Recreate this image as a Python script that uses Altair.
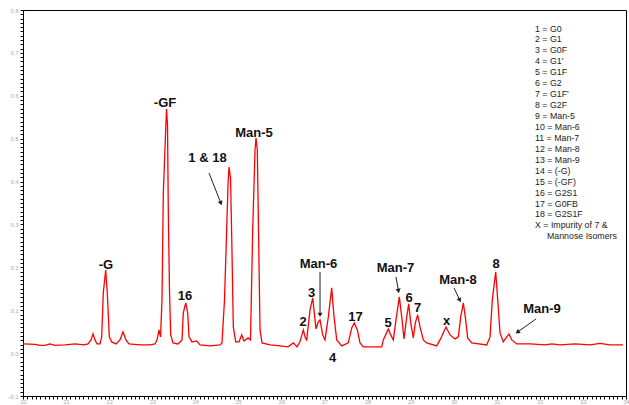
import altair as alt
import numpy as np
import pandas as pd

# ---- chromatogram trace (retention time, min ; absorbance, AU) ----
TIME = [20.000, 20.279, 20.395, 20.511, 20.627, 20.743, 20.975, 21.207, 21.416, 21.509,
        21.579, 21.625, 21.672, 21.718, 21.788, 21.827, 21.864, 21.920, 21.957, 22.004,
        22.059, 22.159, 22.252, 22.322, 22.391, 22.461, 22.717, 22.949, 23.065, 23.111,
        23.158, 23.193, 23.227, 23.258, 23.297, 23.332, 23.355, 23.374, 23.401, 23.429,
        23.483, 23.599, 23.692, 23.722, 23.778, 23.824, 23.854, 23.924, 24.033, 24.110,
        24.342, 24.574, 24.620, 24.678, 24.725, 24.760, 24.783, 24.818, 24.846, 24.883,
        24.939, 25.015, 25.078, 25.131, 25.224, 25.282, 25.333, 25.387, 25.410, 25.440,
        25.468, 25.503, 25.549, 25.735, 25.967, 26.153, 26.276, 26.362, 26.431, 26.508,
        26.555, 26.587, 26.664, 26.726, 26.763, 26.803, 26.856, 26.896, 26.958, 27.012,
        27.089, 27.167, 27.221, 27.284, 27.400, 27.553, 27.632, 27.692, 27.762, 27.825,
        27.901, 28.057, 28.328, 28.366, 28.482, 28.537, 28.598, 28.660, 28.737, 28.793,
        28.846, 28.909, 28.955, 29.002, 29.062, 29.108, 29.164, 29.218, 29.294, 29.373,
        29.605, 29.682, 29.821, 29.914, 30.030, 30.107, 30.163, 30.223, 30.269, 30.325,
        30.418, 30.766, 30.843, 30.896, 30.975, 31.022, 31.075, 31.152, 31.231, 31.284,
        31.347, 31.463, 31.772, 32.120, 32.282, 32.468, 32.816, 33.165, 33.397, 33.629,
        33.931]
ABS = [0.0214, 0.0203, 0.0180, 0.0180, 0.0214, 0.0180, 0.0191, 0.0214, 0.0191, 0.0214,
       0.0308, 0.0448, 0.0308, 0.0214, 0.0214, 0.0378, 0.1403, 0.1939, 0.1403, 0.0378,
       0.0261, 0.0214, 0.0308, 0.0494, 0.0308, 0.0214, 0.0191, 0.0191, 0.0214, 0.0308,
       0.0541, 0.0378, 0.1240, 0.3734, 0.4783, 0.5692, 0.5319, 0.3268, 0.1473, 0.0424,
       0.0238, 0.0214, 0.0308, 0.0937, 0.1170, 0.0937, 0.0378, 0.0261, 0.0284, 0.0191,
       0.0168, 0.0191, 0.0238, 0.1240, 0.2755, 0.3921, 0.4340, 0.4084, 0.2709, 0.0611,
       0.0261, 0.0261, 0.0424, 0.0284, 0.0354, 0.0308, 0.2872, 0.4737, 0.5016, 0.4737,
       0.2872, 0.0541, 0.0238, 0.0191, 0.0168, 0.0145, 0.0238, 0.0145, 0.0268, 0.0541,
       0.0354, 0.0308, 0.1007, 0.1287, 0.0937, 0.0564, 0.0727, 0.0774, 0.0424, 0.0308,
       0.0844, 0.1520, 0.0844, 0.0308, 0.0168, 0.0238, 0.0587, 0.0704, 0.0541, 0.0238,
       0.0145, 0.0145, 0.0145, 0.0308, 0.0564, 0.0424, 0.0308, 0.0774, 0.1310, 0.0844,
       0.0331, 0.0844, 0.1147, 0.0704, 0.0354, 0.0704, 0.0890, 0.0611, 0.0308, 0.0238,
       0.0168, 0.0308, 0.0611, 0.0424, 0.0331, 0.0378, 0.0844, 0.1170, 0.0844, 0.0354,
       0.0238, 0.0191, 0.0378, 0.1240, 0.1893, 0.1240, 0.0471, 0.0261, 0.0378, 0.0448,
       0.0308, 0.0214, 0.0214, 0.0191, 0.0214, 0.0191, 0.0214, 0.0191, 0.0226, 0.0191,
       0.0191]

# ---- peak annotations ----
LABEL_TEXT = ["-G", "-GF", "16", "1 & 18", "Man-5", "Man-6", "3", "2", "4", "17",
              "5", "Man-7", "6", "7", "x", "Man-8", "8", "Man-9"]
LABEL_X = [21.927, 23.297, 23.761, 24.284, 25.363, 26.861, 26.698, 26.501, 27.186, 27.720,
           28.475, 28.649, 28.962, 29.160, 29.833, 30.100, 30.982, 32.050]
LABEL_Y = [0.1963, 0.5739, 0.1240, 0.4457, 0.5040, 0.1986, 0.1310, 0.0634, -0.0205, 0.0750,
           0.0611, 0.1893, 0.1193, 0.0960, 0.0657, 0.1613, 0.1986, 0.0937]

# ---- arrows (start -> tip) ----
ARROW_X1 = [24.319, 26.896, 28.660, 30.007, 31.911]
ARROW_Y1 = [0.420, 0.1893, 0.1776, 0.152, 0.0797]
ARROW_X2 = [24.620, 26.896, 28.730, 30.170, 31.423]
ARROW_Y2 = [0.343, 0.0821, 0.1380, 0.117, 0.0448]

# ---- peak key ----
KEY_LINES = ["1 = G0", "2 = G1", "3 = G0F", "4 = G1'", "5 = G1F", "6 = G2", "7 = G1F'",
             "8 = G2F", "9 = Man-5", "10 = Man-6", "11 = Man-7", "12 = Man-8", "13 = Man-9",
             "14 = (-G)", "15 = (-GF)", "16 = G2S1", "17 = G0FB", "18 = G2S1F",
             "X = Impurity of 7 &"]
KEY_LAST = "Mannose Isomers"

X_DOMAIN = [20, 34]
Y_DOMAIN = [-0.1, 0.8]

W, H = 603, 386
FONT = "Liberation Sans"

px_x = W / (X_DOMAIN[1] - X_DOMAIN[0])
px_y = H / (Y_DOMAIN[1] - Y_DOMAIN[0])

xs = alt.Scale(domain=X_DOMAIN, nice=False, zero=False)
ys = alt.Scale(domain=Y_DOMAIN, nice=False, zero=False)

x_ticks = [round(20 + 0.1 * i, 1) for i in range(141)]
y_ticks = [round(-0.1 + 0.01 * i, 2) for i in range(91)]

axis_common = dict(
    title=None, grid=False, tickSize=3, tickColor="black", domainColor="black",
    labelFontSize=5.5, labelColor="#a8a8a8", labelFont=FONT, labelOverlap=False,
    labelFlush=False, tickCount=1000,
)

x_axis = alt.Axis(values=x_ticks, labelPadding=0,
                  labelExpr="abs(datum.value - round(datum.value)) < 0.001 ? format(datum.value, 'd') : ''",
                  **axis_common)
y_axis = alt.Axis(values=y_ticks, labelPadding=2,
                  labelExpr="abs(datum.value*10 - round(datum.value*10)) < 0.001 ? format(datum.value, '.1f') : ''",
                  **axis_common)

trace = pd.DataFrame({"t": TIME, "a": ABS})
line = alt.Chart(trace).mark_line(color="#ff0000", strokeWidth=1.3, clip=True).encode(
    x=alt.X("t:Q", scale=xs, axis=x_axis),
    y=alt.Y("a:Q", scale=ys, axis=y_axis),
)

labels_df = pd.DataFrame({"t": LABEL_X, "a": LABEL_Y, "txt": LABEL_TEXT})
labels = alt.Chart(labels_df).mark_text(
    font=FONT, fontSize=13, fontWeight="bold", color="#111111",
    align="center", baseline="alphabetic"
).encode(x=alt.X("t:Q", scale=xs), y=alt.Y("a:Q", scale=ys), text="txt:N")

# arrows: shaft + triangular head
x1 = np.array(ARROW_X1); y1 = np.array(ARROW_Y1)
x2 = np.array(ARROW_X2); y2 = np.array(ARROW_Y2)
dxp = (x2 - x1) * px_x
dyp = -(y2 - y1) * px_y
L = np.hypot(dxp, dyp)
ux, uy = dxp / L, dyp / L
ang = np.degrees(np.arctan2(dxp, -dyp)) % 360
head_back = 3.0
shaft_back = 4.5
arrows_df = pd.DataFrame({
    "x1": x1, "y1": y1,
    "x2": x2 - ux * shaft_back / px_x, "y2": y2 + uy * shaft_back / px_y,
    "hx": x2 - ux * head_back / px_x, "hy": y2 + uy * head_back / px_y,
    "ang": ang,
})
shafts = alt.Chart(arrows_df).mark_rule(color="#222222", strokeWidth=1).encode(
    x=alt.X("x1:Q", scale=xs), y=alt.Y("y1:Q", scale=ys), x2="x2:Q", y2="y2:Q")
heads = alt.Chart(arrows_df).mark_point(
    shape="triangle-up", filled=True, color="#222222", size=26, opacity=1
).encode(x=alt.X("hx:Q", scale=xs), y=alt.Y("hy:Q", scale=ys),
         angle=alt.Angle("ang:Q", scale=None))

key_df = pd.DataFrame({"txt": ["\n".join(KEY_LINES)]})
key = alt.Chart(key_df).mark_text(
    font=FONT, fontSize=8.8, color="#222222", align="left", baseline="alphabetic",
    lineBreak="\n", lineHeight=10.94
).encode(x=alt.value(512), y=alt.value(21.5), text="txt:N")

key2_df = pd.DataFrame({"txt": [KEY_LAST]})
key2 = alt.Chart(key2_df).mark_text(
    font=FONT, fontSize=8.8, color="#222222", align="left", baseline="alphabetic"
).encode(x=alt.value(524), y=alt.value(21.5 + 19 * 10.94), text="txt:N")

chart = alt.layer(line, shafts, heads, labels, key, key2).properties(
    width=W, height=H,
    autosize=alt.AutoSizeParams(type="none"),
    padding={"left": 23, "top": 10, "right": 3, "bottom": 9},
    background="white",
).configure_view(stroke="black", strokeWidth=1)

chart.save("out.html", embed_options={"renderer": "svg", "actions": False})
